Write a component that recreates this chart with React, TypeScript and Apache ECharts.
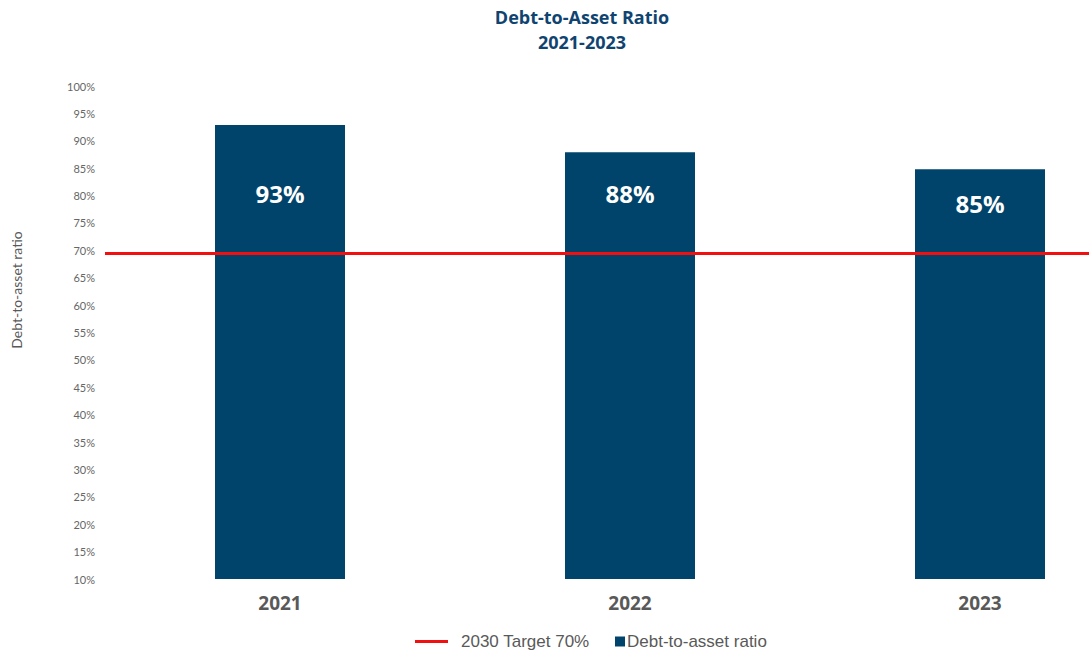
import React, { useEffect, useRef } from "react";
import * as echarts from "echarts";

const categories = ["2021", "2022", "2023"];
const ratioValues = [92.9, 87.9, 84.8];
const ratioLabels = ["93%", "88%", "85%"];
const targetValue = 69.5;
const titleLines = ["Debt-to-Asset Ratio", "2021-2023"];
const seriesNames = ["2030 Target 70%", "Debt-to-asset ratio"];
const axisName = "Debt-to-asset ratio";
const labelDistances = [57, 29, 22];

export default function App() {
  const ref = useRef<HTMLDivElement>(null);
  useEffect(() => {
    if (!ref.current) return;
    const chart = echarts.init(ref.current, null, { renderer: "svg" });
    const font = "Lato, 'Open Sans', sans-serif";
    const bold = "'Open Sans', Lato, sans-serif";
    const arial = "'Liberation Sans', Arial, sans-serif";
    chart.setOption({
      animation: false,
      textStyle: { fontFamily: font },
      graphic: [
        {
          type: "text",
          x: 582,
          y: 17,
          style: {
            text: titleLines[0],
            fill: "#0f4470",
            font: `bold 18px ${bold}`,
            textAlign: "center",
            textVerticalAlign: "middle",
          },
        },
        {
          type: "text",
          x: 582,
          y: 42,
          style: {
            text: titleLines[1],
            fill: "#0f4470",
            font: `bold 18px ${bold}`,
            textAlign: "center",
            textVerticalAlign: "middle",
          },
        },
        {
          type: "text",
          x: 16,
          y: 290,
          rotation: Math.PI / 2,
          style: {
            text: axisName,
            fill: "#595959",
            font: `14px ${font}`,
            textAlign: "center",
            textVerticalAlign: "middle",
          },
        },
      ],
      legend: [
        {
          left: 415,
          top: 633,
          padding: 0,
          data: [{ name: seriesNames[0], icon: "rect" }],
          itemWidth: 33,
          itemHeight: 3,
          textStyle: { color: "#595959", fontSize: 17, fontFamily: arial, padding: [0, 0, 0, 8] },
        },
        {
          left: 615,
          top: 633,
          padding: 0,
          data: [{ name: seriesNames[1], icon: "rect" }],
          itemWidth: 10,
          itemHeight: 10,
          textStyle: { color: "#595959", fontSize: 17, fontFamily: arial, padding: [0, 0, 0, -3] },
        },
      ],
      grid: { left: 105, right: 0, top: 86, bottom: 73, containLabel: false },
      xAxis: {
        type: "category",
        data: categories,
        axisLine: { show: false },
        axisTick: { show: false },
        axisLabel: {
          color: "#595959",
          fontSize: 19,
          fontWeight: "bold",
          margin: 14,
          fontFamily: bold,
        },
      },
      yAxis: {
        type: "value",
        min: 10,
        max: 100,
        interval: 5,
        axisLine: { show: false },
        axisTick: { show: false },
        splitLine: { show: false },
        axisLabel: {
          formatter: "{value}%",
          color: "#666666",
          fontSize: 11,
          margin: 10,
          fontFamily: font,
        },
      },
      series: [
        {
          name: seriesNames[1],
          type: "bar",
          barWidth: 130,
          itemStyle: { color: "#00446b" },
          data: ratioValues.map((v, i) => ({
            value: v,
            label: {
              show: true,
              position: "insideTop",
              distance: labelDistances[i],
              formatter: ratioLabels[i],
              color: "#ffffff",
              fontSize: 24,
              fontWeight: "bold",
              fontFamily: bold,
            },
          })),
          z: 2,
        },
        {
          name: seriesNames[0],
          type: "line",
          data: [],
          itemStyle: { color: "#f20f0f" },
          lineStyle: { color: "#f20f0f", width: 3 },
          markLine: {
            symbol: ["none", "none"],
            silent: true,
            label: { show: false },
            lineStyle: { color: "#f20f0f", width: 3, type: "solid" },
            data: [{ yAxis: targetValue }],
          },
          z: 5,
        },
      ],
    });
    return () => chart.dispose();
  }, []);
  return (
    <div style={{ position: "absolute", left: 0, top: 0, width: 1089, height: 652, overflow: "hidden" }}>
      <div ref={ref} style={{ width: 1155, height: 652 }} />
    </div>
  );
}
